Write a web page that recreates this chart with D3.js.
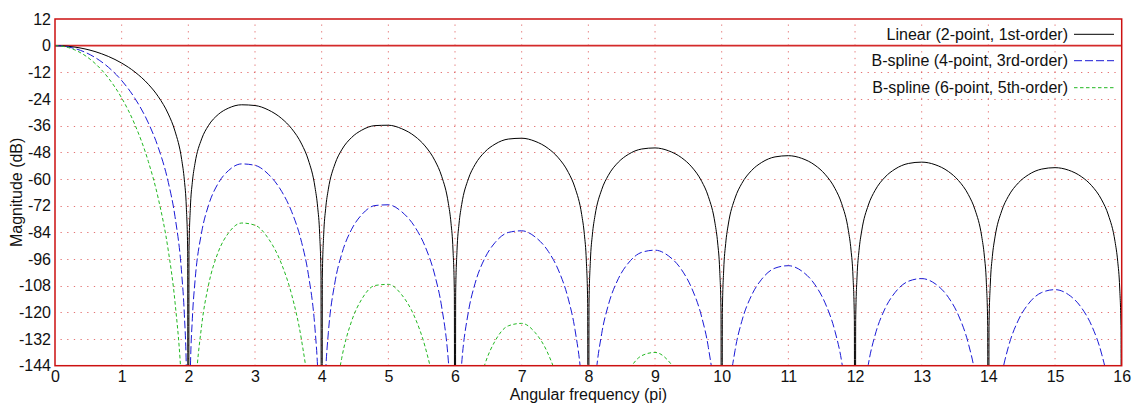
<!DOCTYPE html>
<html>
<head>
<meta charset="utf-8">
<script src="https://cdn.jsdelivr.net/npm/d3@7/dist/d3.min.js"></script>
<style>
  html, body { margin: 0; padding: 0; background: #fff; }
  svg { display: block; font-family: "Liberation Sans", Arial, sans-serif; }
</style>
</head>
<body>
<svg id="chart" width="1136" height="403"></svg>
<script>
// Frequency axis in units of pi (dense near the nulls at even multiples).
const freq = [
  0, 0.1, 0.2, 0.3, 0.45, 0.6, 0.8, 1.0, 1.2, 1.4, 1.55, 1.7, 1.8, 1.9, 1.94, 1.97, 1.99, 2,
  2.01, 2.03, 2.06, 2.1, 2.2, 2.3, 2.45, 2.6, 2.8, 3, 3.2, 3.4, 3.55, 3.7, 3.8, 3.9, 3.94, 3.97, 3.99, 4,
  4.01, 4.03, 4.06, 4.1, 4.2, 4.3, 4.45, 4.6, 4.8, 5, 5.2, 5.4, 5.55, 5.7, 5.8, 5.9, 5.94, 5.97, 5.99, 6,
  6.01, 6.03, 6.06, 6.1, 6.2, 6.3, 6.45, 6.6, 6.8, 7, 7.2, 7.4, 7.55, 7.7, 7.8, 7.9, 7.94, 7.97, 7.99, 8,
  8.01, 8.03, 8.06, 8.1, 8.2, 8.3, 8.45, 8.6, 8.8, 9, 9.2, 9.4, 9.55, 9.7, 9.8, 9.9, 9.94, 9.97, 9.99, 10,
  10.01, 10.03, 10.06, 10.1, 10.2, 10.3, 10.45, 10.6, 10.8, 11, 11.2, 11.4, 11.55, 11.7, 11.8, 11.9, 11.94, 11.97, 11.99, 12,
  12.01, 12.03, 12.06, 12.1, 12.2, 12.3, 12.45, 12.6, 12.8, 13, 13.2, 13.4, 13.55, 13.7, 13.8, 13.9, 13.94, 13.97, 13.99, 14,
  14.01, 14.03, 14.06, 14.1, 14.2, 14.3, 14.45, 14.6, 14.8, 15, 15.2, 15.4, 15.55, 15.7, 15.8, 15.9, 15.94, 15.97, 15.99, 16
];

// Depth used for the exact zeros of the response (far below the axis floor).
const NULL_DB = -500;
const N = NULL_DB;

// Magnitude in dB, linear interpolation kernel.
const linearDb = [
  0, -0.07, -0.29, -0.65, -1.47, -2.65, -4.84, -7.84, -11.88, -17.37, -22.96, -30.78, -38.46, -51.22, -60.41, -72.70, -91.95, N,
  -92.13, -73.22, -61.46, -52.96, -41.94, -36.03, -30.91, -28.13, -26.60, -26.93, -28.92, -32.79, -37.35, -44.29, -51.44, -63.71, -72.72, -84.87, -104.04, N,
  -104.13, -85.13, -73.24, -64.58, -53.17, -46.90, -41.28, -38.04, -35.97, -35.80, -37.36, -40.82, -45.11, -51.80, -58.78, -70.91, -79.85, -91.96, -111.10, N,
  -111.16, -92.13, -80.20, -71.49, -59.94, -53.54, -47.73, -44.31, -42.02, -41.65, -43.01, -46.30, -50.46, -57.02, -63.93, -75.98, -84.89, -96.98, -116.10, N,
  -116.15, -97.11, -85.15, -76.41, -64.80, -58.33, -52.42, -48.91, -46.50, -46.01, -47.27, -50.45, -54.54, -61.03, -67.89, -79.90, -88.80, -100.87, -119.98, N,
  -120.02, -100.97, -89.00, -80.25, -68.59, -62.08, -56.11, -52.54, -50.05, -49.50, -50.69, -53.80, -57.85, -64.29, -71.12, -83.09, -91.98, -104.05, -123.15, N,
  -123.18, -104.13, -92.15, -83.38, -71.70, -65.16, -59.15, -55.54, -53.01, -52.40, -53.54, -56.61, -60.62, -67.03, -73.84, -85.79, -94.67, -106.73, -125.83, N,
  -125.86, -106.80, -94.82, -86.04, -74.34, -67.78, -61.74, -58.10, -55.53, -54.89, -55.99, -59.03, -63.01, -69.40, -76.19, -88.13, -97.00, -109.05, -128.15, N
];

// Magnitude in dB, cubic B-spline kernel.
const cubicDb = [
  0, -0.14, -0.57, -1.30, -2.94, -5.30, -9.68, -15.69, -23.77, -34.74, -45.91, -61.56, -76.91, -102.44, -120.82, -145.40, -183.90, N,
  -184.26, -146.44, -122.92, -105.92, -83.88, -72.06, -61.82, -56.26, -53.20, -53.86, -57.84, -65.58, -74.70, -88.58, -102.88, -127.42, -145.44, -169.74, -208.08, N,
  -208.26, -170.26, -146.48, -129.16, -106.34, -93.80, -82.56, -76.08, -71.94, -71.60, -74.72, -81.64, -90.22, -103.60, -117.56, -141.82, -159.70, -183.92, -222.20, N,
  -222.32, -184.26, -160.40, -142.98, -119.88, -107.08, -95.46, -88.62, -84.04, -83.30, -86.02, -92.60, -100.92, -114.04, -127.86, -151.96, -169.78, -193.96, -232.20, N,
  -232.30, -194.22, -170.30, -152.82, -129.60, -116.66, -104.84, -97.82, -93.00, -92.02, -94.54, -100.90, -109.08, -122.06, -135.78, -159.80, -177.60, -201.74, -239.96, N,
  -240.04, -201.94, -178.00, -160.50, -137.18, -124.16, -112.22, -105.08, -100.10, -99.00, -101.38, -107.60, -115.70, -128.58, -142.24, -166.18, -183.96, -208.10, -246.30, N,
  -246.36, -208.26, -184.30, -166.76, -143.40, -130.32, -118.30, -111.08, -106.02, -104.80, -107.08, -113.22, -121.24, -134.06, -147.68, -171.58, -189.34, -213.46, -251.66, N,
  -251.72, -213.60, -189.64, -172.08, -148.68, -135.56, -123.48, -116.20, -111.06, -109.78, -111.98, -118.06, -126.02, -138.80, -152.38, -176.26, -194.00, -218.10, -256.30, N
];

// Magnitude in dB, quintic B-spline kernel.
const quinticDb = [
  0, -0.21, -0.86, -1.94, -4.42, -7.96, -14.52, -23.54, -35.65, -52.12, -68.87, -92.34, -115.37, -153.67, -181.23, -218.10, -275.85, N,
  -276.39, -219.66, -184.38, -158.88, -125.82, -108.09, -92.73, -84.39, -79.80, -80.79, -86.76, -98.37, -112.05, -132.87, -154.32, -191.13, -218.16, -254.61, -312.12, N,
  -312.39, -255.39, -219.72, -193.74, -159.51, -140.70, -123.84, -114.12, -107.91, -107.40, -112.08, -122.46, -135.33, -155.40, -176.34, -212.73, -239.55, -275.88, -333.30, N,
  -333.48, -276.39, -240.60, -214.47, -179.82, -160.62, -143.19, -132.93, -126.06, -124.95, -129.03, -138.90, -151.38, -171.06, -191.79, -227.94, -254.67, -290.94, -348.30, N,
  -348.45, -291.33, -255.45, -229.23, -194.40, -174.99, -157.26, -146.73, -139.50, -138.03, -141.81, -151.35, -163.62, -183.09, -203.67, -239.70, -266.40, -302.61, -359.94, N,
  -360.06, -302.91, -267.00, -240.75, -205.77, -186.24, -168.33, -157.62, -150.15, -148.50, -152.07, -161.40, -173.55, -192.87, -213.36, -249.27, -275.94, -312.15, -369.45, N,
  -369.54, -312.39, -276.45, -250.14, -215.10, -195.48, -177.45, -166.62, -159.03, -157.20, -160.62, -169.83, -181.86, -201.09, -221.52, -257.37, -284.01, -320.19, -377.49, N,
  -377.58, -320.40, -284.46, -258.12, -223.02, -203.34, -185.22, -174.30, -166.59, -164.67, -167.97, -177.09, -189.03, -208.20, -228.57, -264.39, -291.00, -327.15, -384.45, N
];

const seriesNames = [
  "Linear (2-point, 1st-order)",
  "B-spline (4-point, 3rd-order)",
  "B-spline (6-point, 5th-order)"
];
const seriesColors = ["#000000", "#1a1ad6", "#22b822"];
const seriesDash = [null, "8,3", "3.5,2.5"];

const xTicks = d3.range(0, 17, 1);
const yTicks = [12, 0, -12, -24, -36, -48, -60, -72, -84, -96, -108, -120, -132, -144];

const FONT = 16;
const svg = d3.select("#chart");
const margin = { left: 55, right: 14.3, top: 19, bottom: 37.3 };
const W = 1136, H = 403;
const iw = W - margin.left - margin.right;
const ih = H - margin.top - margin.bottom;

const x = d3.scaleLinear().domain([0, 16]).range([0, iw]);
const y = d3.scaleLinear().domain([-144, 12]).range([ih, 0]);

const g = svg.append("g").attr("transform", `translate(${margin.left},${margin.top})`);

g.append("clipPath").attr("id", "plotclip")
  .append("rect").attr("x", 0).attr("y", 0).attr("width", iw).attr("height", ih);

// Dotted grid
const gridColor = "#d83a3a";
g.append("g").attr("class", "vgrid")
  .selectAll("line").data(xTicks.slice(1, -1)).join("line")
  .attr("x1", d => x(d)).attr("x2", d => x(d))
  .attr("y1", 0).attr("y2", ih)
  .attr("stroke", gridColor).attr("stroke-opacity", 0.7)
  .attr("stroke-width", 1).attr("stroke-dasharray", "1.3,5.37")
  .attr("stroke-dashoffset", -5.5);
g.append("g").attr("class", "hgrid")
  .selectAll("line").data(yTicks.filter(v => v < 12 && v > -144 && v !== 0)).join("line")
  .attr("x1", 0).attr("x2", iw)
  .attr("y1", d => Math.round(y(d)) + 0.5).attr("y2", d => Math.round(y(d)) + 0.5)
  .attr("stroke", gridColor).attr("stroke-opacity", 0.7)
  .attr("stroke-width", 1).attr("stroke-dasharray", "1.3,5.37")
  .attr("stroke-dashoffset", -5.5);

// Axes (labels only, the frame is drawn separately)
const xAxis = d3.axisBottom(x).tickValues(xTicks).tickSize(0).tickPadding(4.5).tickFormat(d3.format("d"));
const yAxis = d3.axisLeft(y).tickValues(yTicks).tickSize(0).tickPadding(4).tickFormat(d3.format("d"));

const gx = g.append("g").attr("transform", `translate(0,${ih})`).call(xAxis);
const gy = g.append("g").call(yAxis);
[gx, gy].forEach(a => {
  a.select(".domain").remove();
  a.selectAll("text").attr("font-size", FONT).attr("fill", "#111")
    .attr("font-family", "'Liberation Sans', Arial, sans-serif");
});
gy.selectAll("text").text(d => d3.format("d")(d).replace("−", "-"));

// Reference line at 0 dB
g.append("line")
  .attr("x1", 0).attr("x2", iw).attr("y1", y(0)).attr("y2", y(0))
  .attr("stroke", "#d42a2a").attr("stroke-width", 1.6);

// Curves
const series = [linearDb, cubicDb, quinticDb];
const line = d3.line()
  .x((d, i) => x(freq[i]))
  .y(d => y(d))
  .curve(d3.curveMonotoneX);

const curves = g.append("g").attr("clip-path", "url(#plotclip)");
series.forEach((vals, k) => {
  curves.append("path")
    .datum(vals)
    .attr("d", line)
    .attr("fill", "none")
    .attr("stroke", seriesColors[k])
    .attr("stroke-width", 1)
    .attr("stroke-dasharray", seriesDash[k]);
});

// Frame
g.append("rect")
  .attr("x", 0).attr("y", 0).attr("width", iw).attr("height", ih)
  .attr("fill", "none").attr("stroke", "#cc1111").attr("stroke-width", 1.5);

// Legend (right aligned, no box)
const legendRowY = [34.3, 60.7, 87.7];
const legend = svg.append("g");
seriesNames.forEach((name, k) => {
  legend.append("text")
    .attr("x", 1068).attr("y", legendRowY[k]).attr("dy", "0.35em")
    .attr("text-anchor", "end").attr("font-size", FONT).attr("fill", "#111")
    .text(name);
  legend.append("line")
    .attr("x1", 1074).attr("x2", 1114)
    .attr("y1", legendRowY[k]).attr("y2", legendRowY[k])
    .attr("stroke", seriesColors[k]).attr("stroke-width", 1)
    .attr("stroke-dasharray", seriesDash[k]);
});

// Axis titles
svg.append("text")
  .attr("x", margin.left + iw / 2).attr("y", 399.8)
  .attr("text-anchor", "middle").attr("font-size", FONT).attr("fill", "#111")
  .text("Angular frequency (pi)");
svg.append("text")
  .attr("transform", `translate(21.5,${margin.top + ih / 2}) rotate(-90)`)
  .attr("text-anchor", "middle").attr("font-size", FONT).attr("fill", "#111")
  .text("Magnitude (dB)");
</script>
</body>
</html>
